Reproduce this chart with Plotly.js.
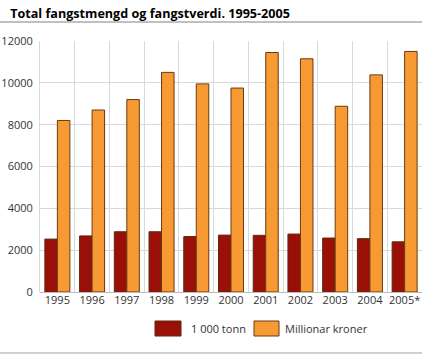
<!DOCTYPE html>
<html><head><meta charset="utf-8">
<script src="https://cdn.plot.ly/plotly-3.0.1.min.js"></script>
<style>body{margin:0;background:#fff}#c{width:423px;height:356px}</style>
</head><body><div id="c"></div>
<script>
const years = ["1995","1996","1997","1998","1999","2000","2001","2002","2003","2004","2005*"];
const tonn = [2530,2680,2880,2880,2650,2720,2710,2770,2580,2550,2400];
const kroner = [8200,8700,9200,10500,9950,9750,11450,11150,8880,10380,11500];
const seriesNames = ["1 000 tonn","Millionar kroner"];
const colors = ["#9a0f07","#f79a33"];
const titleText = "Total fangstmengd og fangstverdi. 1995-2005";
const yTicks = [0,2000,4000,6000,8000,10000,12000];

const traces = [
  {type:"bar", x:years, y:tonn, name:seriesNames[0], marker:{color:colors[0], line:{color:"#5a2a0a", width:1}}},
  {type:"bar", x:years, y:kroner, name:seriesNames[1], marker:{color:colors[1], line:{color:"#6b3a10", width:1}}}
];
const font = "'Open Sans', 'DejaVu Sans', sans-serif";
const layout = {
  width:423, height:356,
  margin:{l:40, r:1, t:41, b:64},
  paper_bgcolor:"#fff", plot_bgcolor:"#fff",
  showlegend:false,
  barmode:"group", bargap:0.28, bargroupgap:0,
  font:{family:font, size:11, color:"#333"},
  title:{text:"<b>"+titleText+"</b>", x:0.024, xanchor:"left", y:0.975, yanchor:"top", font:{family:font, size:12.6, color:"#000"}},
  xaxis:{type:"category", tickson:"boundaries", showgrid:true, gridcolor:"#d9d9d9", gridwidth:1, ticks:"", tickangle:0, showline:false, tickfont:{size:11, color:"#333"}},
  yaxis:{range:[0,12000], tickvals:yTicks, ticktext:yTicks.map(String), showgrid:true, gridcolor:"#d9d9d9", gridwidth:1, showline:true, linecolor:"#d9d9d9", zeroline:true, zerolinecolor:"#bbb", ticks:"", ticklabelstandoff:4, tickfont:{size:11, color:"#333"}},
  shapes:[
    {type:"line", xref:"paper", yref:"paper", x0:-40/382, x1:1.0, y0:(356-64-22)/251, y1:(356-64-22)/251, line:{color:"#c0c0c0", width:2}},
    {type:"line", xref:"paper", yref:"paper", x0:-40/382, x1:1.0, y0:(292-353)/251, y1:(292-353)/251, line:{color:"#c0c0c0", width:1.5}},
    {type:"rect", xref:"paper", yref:"paper", x0:(155-40)/382, x1:(181-40)/382, y0:(292-336)/251, y1:(292-321)/251, fillcolor:colors[0], line:{color:"#5a2a0a", width:1}},
    {type:"rect", xref:"paper", yref:"paper", x0:(254-40)/382, x1:(279-40)/382, y0:(292-336)/251, y1:(292-321)/251, fillcolor:colors[1], line:{color:"#6b3a10", width:1}}
  ],
  annotations:[
    {xref:"paper", yref:"paper", x:(189-40)/382, y:(292-328.5)/251, xanchor:"left", yanchor:"middle", showarrow:false, text:seriesNames[0], font:{size:11, color:"#333"}},
    {xref:"paper", yref:"paper", x:(283-40)/382, y:(292-328.5)/251, xanchor:"left", yanchor:"middle", showarrow:false, text:seriesNames[1], font:{size:11, color:"#333"}}
  ]
};
Plotly.newPlot("c", traces, layout, {displayModeBar:false, staticPlot:true});
</script></body></html>
